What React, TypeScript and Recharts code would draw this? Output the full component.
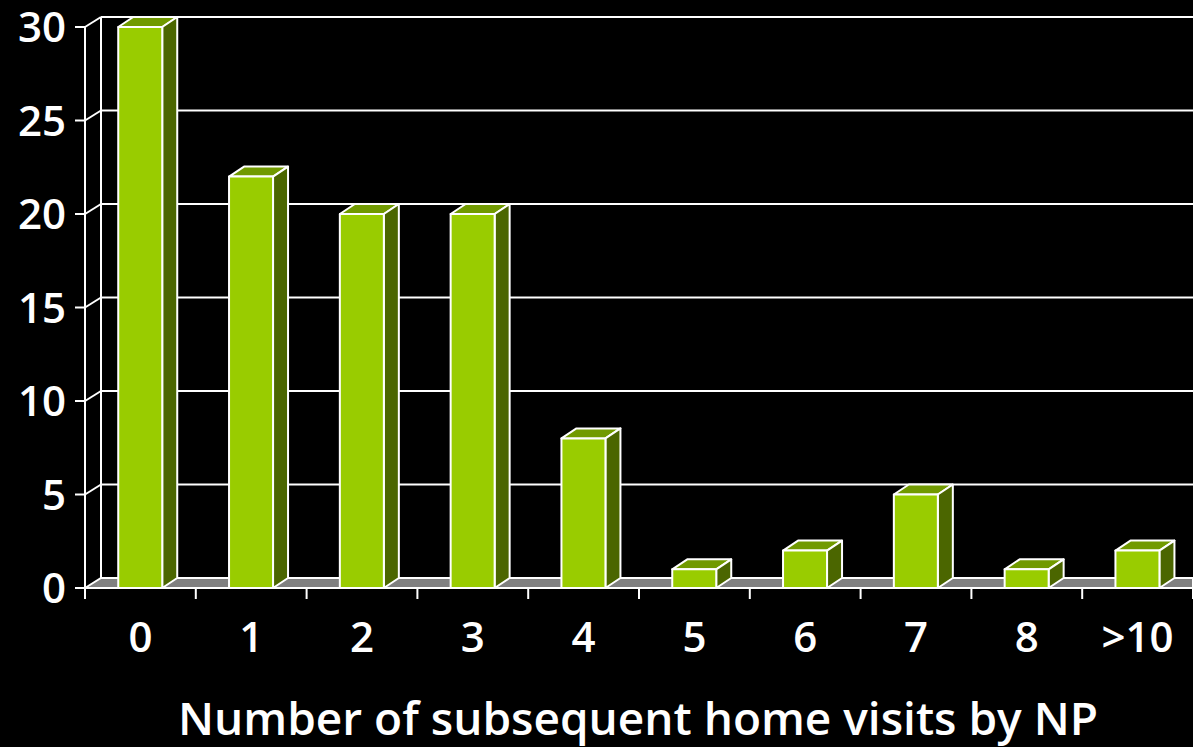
import React from "react";
import { Bar, BarChart, CartesianGrid, XAxis, YAxis } from "recharts";

const categories = ["0", "1", "2", "3", "4", "5", "6", "7", "8", ">10"];
const visitCounts = [30, 22, 20, 20, 8, 1, 2, 5, 1, 2];
const yTicks = [0, 5, 10, 15, 20, 25, 30];

const data = categories.map((name, i) => ({ name, value: visitCounts[i] }));

const W = 1193;
const H = 747;
const PLOT_LEFT = 85;
const PLOT_TOP = 27;
const PLOT_BOTTOM = 588;
const DEPTH_X = 16;
const DEPTH_Y = 10;
const STEP = (W - PLOT_LEFT) / categories.length;
const FONT = "'Open Sans', 'DejaVu Sans', sans-serif";
const LINE = 2;

function Bar3D(props: any) {
  const { x, y, width, height } = props;
  if (height <= 0) return null;
  const dx = 15;
  const dy = 10;
  return (
    <g stroke="#fff" strokeWidth={LINE} strokeLinejoin="round">
      <polygon
        points={`${x},${y} ${x + width},${y} ${x + width + dx},${y - dy} ${x + dx},${y - dy}`}
        fill="#719A00"
      />
      <polygon
        points={`${x + width},${y} ${x + width + dx},${y - dy} ${x + width + dx},${y + height - dy} ${x + width},${y + height}`}
        fill="#4B6600"
      />
      <rect x={x} y={y} width={width} height={height} fill="#99CC00" />
    </g>
  );
}

function gridLine(p: any) {
  const { x1, y1, x2 } = p;
  const isFloor = Math.abs(y1 - PLOT_BOTTOM) < 1;
  const isTop = Math.abs(y1 - PLOT_TOP) < 1;
  return (
    <g key={p.key ?? `g-${y1}`}>
      {isFloor ? (
        <polygon
          points={`${x1},${y1} ${x1 + DEPTH_X},${y1 - DEPTH_Y} ${x2},${y1 - DEPTH_Y} ${x2},${y1}`}
          fill="#808080"
          stroke="#fff"
          strokeWidth={LINE}
        />
      ) : (
        <>
          <line x1={x1} y1={y1} x2={x1 + DEPTH_X} y2={y1 - DEPTH_Y} stroke="#fff" strokeWidth={LINE} />
          <line x1={x1 + DEPTH_X} y1={y1 - DEPTH_Y} x2={x2} y2={y1 - DEPTH_Y} stroke="#fff" strokeWidth={LINE} />
        </>
      )}
      {isTop && (
        <line
          x1={x1 + DEPTH_X}
          y1={y1 - DEPTH_Y}
          x2={x1 + DEPTH_X}
          y2={PLOT_BOTTOM - DEPTH_Y}
          stroke="#fff"
          strokeWidth={LINE}
        />
      )}
    </g>
  );
}

function XTick(props: any) {
  const { x, y, payload, index } = props;
  const left = x - STEP / 2;
  return (
    <g>
      <line x1={left} y1={y - 8} x2={left} y2={y + 3} stroke="#fff" strokeWidth={LINE} />
      {index === categories.length - 1 && (
        <line x1={left + STEP} y1={y - 8} x2={left + STEP} y2={y + 3} stroke="#fff" strokeWidth={LINE} />
      )}
      <text
        x={x}
        y={y + 56}
        textAnchor="middle"
        fill="#fff"
        fontSize={42}
        fontWeight={600}
        fontFamily={FONT}
      >
        {payload.value}
      </text>
    </g>
  );
}

function YTick(props: any) {
  const { x, y, payload } = props;
  return (
    <text
      x={x + 1}
      y={y + 15}
      textAnchor="end"
      fill="#fff"
      fontSize={42}
      fontWeight={600}
      fontFamily={FONT}
    >
      {payload.value}
    </text>
  );
}

function XTitle() {
  return (
    <text
      x={638}
      y={735}
      textAnchor="middle"
      fill="#fff"
      fontSize={46}
      fontWeight={600}
      fontFamily={FONT}
    >
      Number of subsequent home visits by NP
    </text>
  );
}

export default function App() {
  if (typeof document !== "undefined") document.body.style.margin = "0";
  return (
    <div style={{ width: W, height: H, background: "#000" }}>
      <BarChart
        width={W}
        height={H}
        data={data}
        margin={{ top: PLOT_TOP, right: 0, bottom: 0, left: 0 }}
        barCategoryGap="30%"
      >
        <CartesianGrid vertical={false} horizontal={gridLine} />
        <XAxis
          dataKey="name"
          height={H - PLOT_BOTTOM}
          axisLine={{ stroke: "#fff", strokeWidth: LINE }}
          tickLine={false}
          tick={<XTick />}
          interval={0}
          label={<XTitle />}
        />
        <YAxis
          width={PLOT_LEFT}
          domain={[0, 30]}
          ticks={yTicks}
          interval={0}
          axisLine={{ stroke: "#fff", strokeWidth: LINE }}
          tickLine={{ stroke: "#fff", strokeWidth: LINE }}
          tickSize={10}
          tickMargin={10}
          tick={<YTick />}
        />
        <Bar dataKey="value" shape={<Bar3D />} isAnimationActive={false} />
      </BarChart>
    </div>
  );
}
